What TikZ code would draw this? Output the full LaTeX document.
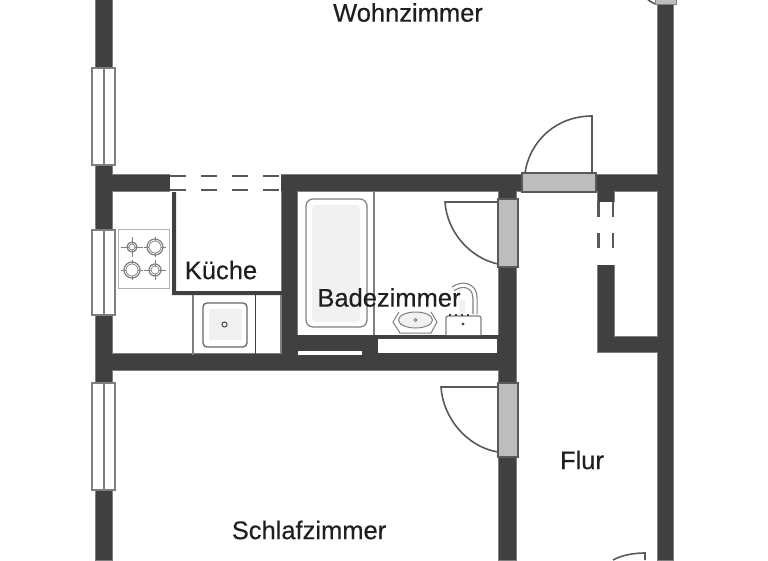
\documentclass[tikz,border=0pt]{standalone}
\usepackage{fontspec}
\setmainfont{Liberation Sans}
\definecolor{wallc}{HTML}{404040}
\definecolor{linec}{HTML}{7F7F7F}
\definecolor{doorc}{HTML}{BDBDBD}
\definecolor{tubc}{HTML}{F1F1F1}
\tikzset{
  wallrim/.style={draw=linec, line width=1.2pt},
  doorleaf/.style={draw=linec!70!black, line width=1.6pt},
  doorframe/.style={fill=doorc, draw=linec!70!black, line width=1.4pt},
  glass/.style={fill=white, draw=linec, line width=1.3pt},
  fixture/.style={draw=linec, line width=1.2pt},
  fixturedark/.style={draw=wallc, line width=1.4pt},
  dashline/.style={draw=linec!70!black, line width=2.2pt},
  roomlabel/.style={inner sep=0pt, text=black!88, font=\fontsize{25.5}{26}\selectfont\addfontfeature{FakeBold=0.35}},
}
\begin{document}
\begin{tikzpicture}[x=1pt,y=-1pt]
\useasboundingbox[fill=white] (0,0) rectangle (768,560);

% outer and inner walls
\foreach \xa/\ya/\xb/\yb in {96/0/112/560, 658/0/673/560, 96/175/522/191, 596/175/658/191,
    282/175/297/370, 96/354/499/370, 499/175/516/560, 598/175/614/202, 598/265/614/352, 598/337/658/352}
    {
    \draw[wallrim] (\xa,\ya) rectangle (\xb,\yb);
    }
\foreach \xa/\ya/\xb/\yb in {96/0/112/560, 658/0/673/560, 96/175/522/191, 596/175/658/191,
    282/175/297/370, 96/354/499/370, 499/175/516/560, 598/175/614/202, 598/265/614/352, 598/337/658/352}
    {
    \fill[wallc] (\xa,\ya) rectangle (\xb,\yb);
    }

% bath room: shelf behind the wall
\fill[wallc] (297,335) rectangle (499,354);
\fill[white] (298,351) rectangle (362,355);
\fill[white] (378,338.5) rectangle (497,353);

% windows in the left wall
\foreach \ya/\yb in {68/165, 230/315, 383/490}
    {
    \draw[glass] (92,\ya) rectangle (115,\yb);
    \draw[fixture] (104,\ya) -- (104,\yb);
    }

% kitchen: opening with dashes, thin wall
\fill[white] (170,174) rectangle (281,192.5);
\foreach \y in {176,190}
    {
    \draw[dashline, dash pattern=on 16pt off 15pt] (170,\y) -- (281,\y);
    }
\fill[wallc] (172,192) rectangle (176,295) (172,291) rectangle (282,295);

% closet opening
\fill[white] (597,202) rectangle (615,265);
\foreach \x in {598.5,613}
    {
    \draw[dashline, dash pattern=on 15pt off 16pt] (\x,202) -- (\x,263);
    }

% doors
\draw[doorframe] (522,173) rectangle (596,192);
\draw[doorframe] (498,199) rectangle (518,267);
\draw[doorframe] (498,383) rectangle (518,457);
\draw[doorleaf] (592,173) -- (592,116) .. controls (557,116) and (530,140) .. (525,173);
\draw[doorleaf] (498,202) -- (445,202) .. controls (447,232) and (470,258) .. (498,264);
\draw[doorleaf] (498,387) -- (441,387) .. controls (443,418) and (467,447) .. (498,452);
\draw[doorleaf] (613,560) .. controls (622,555) and (634,553) .. (645,553) -- (645,560);
\draw[doorleaf] (648,0) -- (655,4);
\draw[fill=doorc, draw=linec, line width=1pt] (655,-2) rectangle (676,4);

% stove
\draw[fixture, draw=linec!60, line width=0.9pt] (118,229) rectangle (169,288);
\foreach \x/\y/\r in {132/247/5, 155/247/8, 132/270/8, 155/270/6}
    {
    \draw[fixture] (\x,\y) circle (\r pt);
    \draw[fixture, line width=0.7pt] (\x-11,\y) -- (\x+11,\y) (\x,\y-10) -- (\x,\y+10);
    \draw[fixture, line width=0.7pt, fill=white] (\x,\y) circle (\r pt - 2pt);
    }

% sink
\draw[fixture] (193,295) -- (193,355);
\draw[fixturedark] (255.5,295) -- (255.5,355);
\draw[fixture] (281,295) -- (281,354);
\draw[fixture, draw=wallc!80, line width=1.3pt, rounded corners=4pt] (203,303) rectangle (247,347);
\fill[tubc] (209,309) rectangle (242,340);
\draw[fixturedark, line width=1pt, fill=white] (224.5,324.5) circle (2.5pt);

% bath tub
\draw[fixture] (374,191) -- (374,335);
\draw[fixture, fill=white, rounded corners=7pt] (306,199) rectangle (367,327);
\fill[tubc, rounded corners=4pt] (312,205) rectangle (360,322);

% basin and toilet
\draw[fixture, line width=1pt] (399,312) -- (393,322) -- (400,333) -- (431,333) -- (437,322) -- (431,312);
\draw[fixture, fill=tubc, line width=1pt] (415.5,320) ellipse (17pt and 8pt);
\draw[fixture, line width=0.8pt, fill=white] (415.5,320) circle (1.5pt);
\fill[tubc] (459,300) rectangle (465,314);
\draw[fixture, line width=1.2pt, double=white, double distance=3pt, draw=linec] (453,289) .. controls (462,282) and (475,285) .. (475,298) -- (475,314);
\draw[fixture, rounded corners=2pt, fill=white] (446,335) -- (446,316) -- (481,316) -- (481,335);
\draw[fixturedark, line width=1.2pt, dash pattern=on 2pt off 4pt] (449,315) -- (470,315);
\fill[linec!60!black] (463,324) circle (1.6pt);

% room names
\node (wohnzimmer) at (408,12.5) [roomlabel] {Wohnzimmer};
\node (kueche) at (221,270) [roomlabel] {Küche};
\node (badezimmer) at (389,297.5) [roomlabel] {Badezimmer};
\node (flur) at (582,460) [roomlabel] {Flur};
\node (schlafzimmer) at (309,530) [roomlabel] {Schlafzimmer};

\end{tikzpicture}
\end{document}
